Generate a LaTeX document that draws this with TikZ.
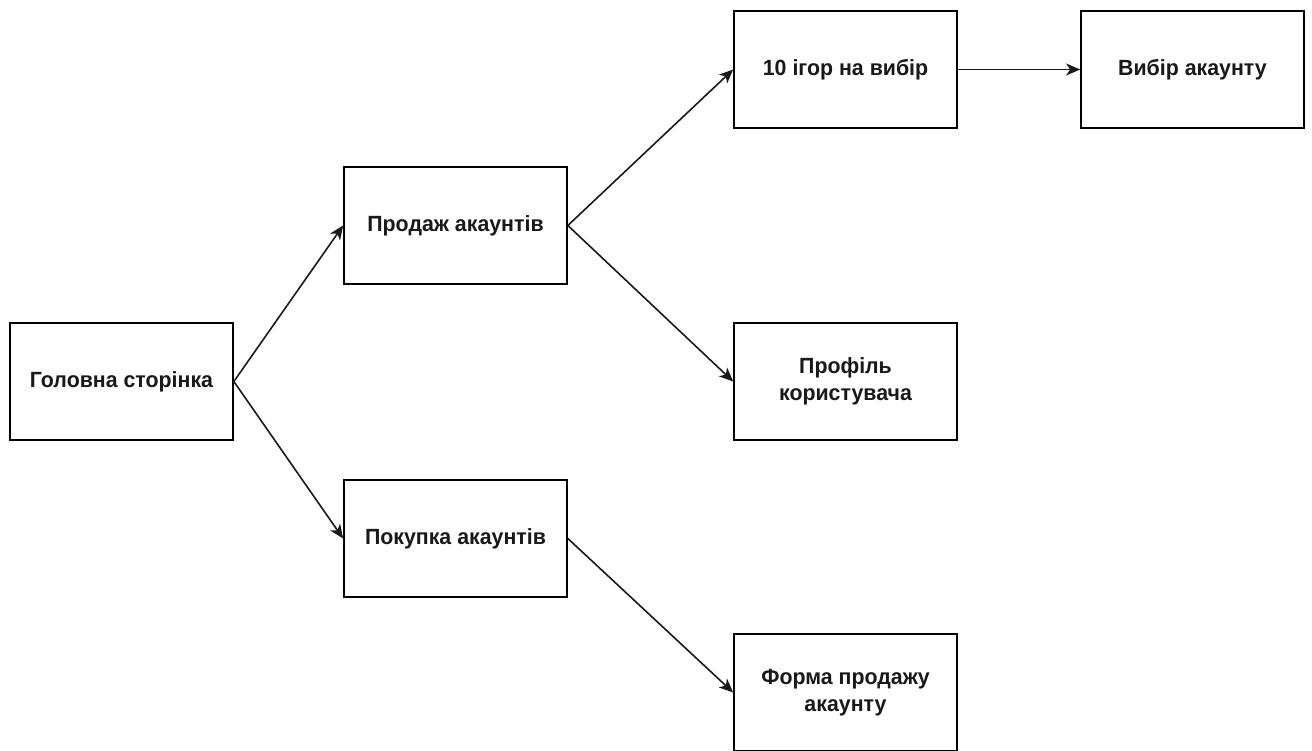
\documentclass[tikz,border=0pt]{standalone}
\usepackage{fontspec}
\setmainfont[FakeStretch=0.97]{Liberation Sans}
\usetikzlibrary{arrows.meta}
\begin{document}
\begin{tikzpicture}[x=1pt,y=-1pt,
  pagebox/.style={draw=black,line width=1.7pt,fill=white,minimum width=223pt,minimum height=117pt,
    inner sep=0pt,align=center,font=\fontsize{22}{27}\selectfont\bfseries,text=black!90},
  link/.style={line width=1.6pt,draw=black!90,-{Stealth[length=14pt,width=12pt,inset=4pt]}}]
\useasboundingbox (0,0) rectangle (1312,751);
\node[pagebox] (a) at (121.5,381.5) {Головна сторінка};
\node[pagebox] (b) at (455.5,225.5) {Продаж акаунтів};
\node[pagebox] (c) at (455.5,538.5) {Покупка акаунтів};
\node[pagebox] (d) at (845.5,69.5) {10 ігор на вибір};
\node[pagebox] (e) at (1192.5,69.5) {Вибір акаунту};
\node[pagebox] (f) at (845.5,381.5) {Профіль\\користувача};
\node[pagebox] (g) at (845.5,692.5) {Форма продажу\\акаунту};
\draw[link] (a.east) -- (b.west);
\draw[link] (a.east) -- (c.west);
\draw[link] (b.east) -- (d.west);
\draw[link] (b.east) -- (f.west);
\draw[link] (c.east) -- (g.west);
\draw[link] (d.east) -- (e.west);
\end{tikzpicture}
\end{document}
